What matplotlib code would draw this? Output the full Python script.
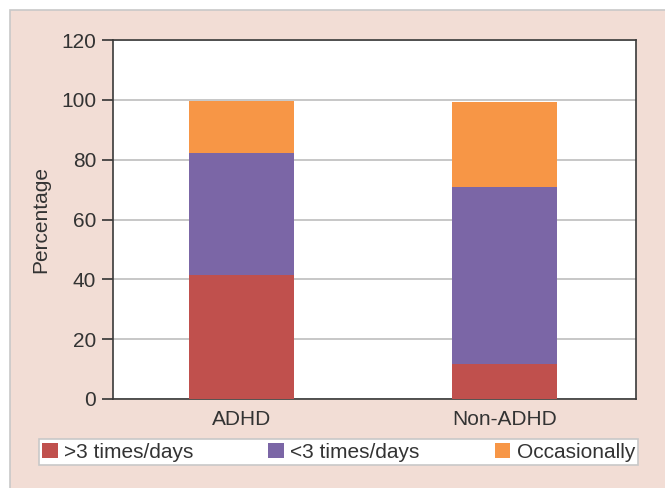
import numpy as np
import matplotlib.pyplot as plt
from matplotlib.patches import Rectangle

plt.rcParams['font.family'] = ['Liberation Sans', 'DejaVu Sans']

# data
groups = ['ADHD', 'Non-ADHD']
more_than_3 = [41.5, 11.7]
less_than_3 = [40.8, 59.1]
occasionally = [17.2, 28.5]
series_labels = ['>3 times/days', '<3 times/days', 'Occasionally']
colors = ['#C0504D', '#7B66A6', '#F79646']

fig = plt.figure(figsize=(6.65, 4.88), dpi=100)
fig.patch.set_facecolor('white')

# pink panel behind the chart
fig.patches.append(Rectangle((10 / 665, -0.01), 1.0, 1 - 10 / 488 + 0.01,
                             transform=fig.transFigure, facecolor='#F2DDD5',
                             edgecolor='#C8C8C8', linewidth=1.2, zorder=-5))

ax = fig.add_axes([113 / 665, 89 / 488, 523 / 665, 359 / 488])
ax.set_facecolor('white')

x = np.arange(len(groups))
bottom = np.zeros(len(groups))
for vals, lab, col in zip([more_than_3, less_than_3, occasionally], series_labels, colors):
    ax.bar(x, vals, width=0.40, bottom=bottom, color=col, label=lab, zorder=3)
    bottom += np.array(vals)

ax.set_xlim(-0.49, 1.5)
ax.set_ylim(0, 120)
ax.set_yticks(range(0, 121, 20))
ax.set_xticks(x)
ax.set_xticklabels(groups)
ax.yaxis.grid(True, color='#BEBEBE', linewidth=1.2, zorder=0)
ax.set_axisbelow(True)

for s in ax.spines.values():
    s.set_color('#3A3A3A')
    s.set_linewidth(1.2)

ax.tick_params(axis='y', labelsize=15, colors='#333333', length=8, width=1.2, pad=4)
ax.tick_params(axis='x', labelsize=15, colors='#333333', length=0, pad=8)
ax.set_ylabel('Percentage', fontsize=15, color='#333333', labelpad=8)

leg = fig.legend(loc='center', bbox_to_anchor=(39 / 665, 21 / 488, 599 / 665, 30 / 488),
                 mode='expand', ncol=3, fontsize=15, frameon=True, fancybox=False,
                 framealpha=1, handlelength=0.75, handleheight=0.75, handletextpad=0.3,
                 borderpad=0.15, borderaxespad=0)
leg.get_frame().set_edgecolor('#C8C8C8')
leg.get_frame().set_linewidth(1.2)
for t in leg.get_texts():
    t.set_color('#333333')

fig.savefig('out.png', dpi=100)
